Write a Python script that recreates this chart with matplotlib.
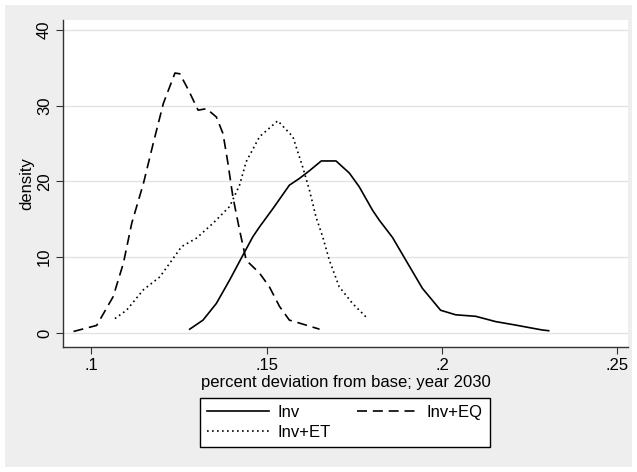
import matplotlib
matplotlib.use("Agg")
import matplotlib.pyplot as plt
from matplotlib.patches import Rectangle

plt.rcParams["font.family"] = ["Liberation Sans", "DejaVu Sans"]

# Kernel density curves (x = pct deviation, y = density)
inv_x = [0.1281, 0.1319, 0.1357, 0.1395, 0.1433, 0.1461, 0.1480, 0.1518, 0.1565,
         0.1594, 0.1622, 0.1656, 0.1698, 0.1736, 0.1764, 0.1802, 0.1821, 0.1859,
         0.1897, 0.1944, 0.1996, 0.2039, 0.2096, 0.2153, 0.2209, 0.2238, 0.2285,
         0.2304]
inv_y = [0.5, 1.7, 3.9, 7.0, 10.3, 12.7, 14.0, 16.4, 19.5,
         20.4, 21.4, 22.7, 22.7, 21.1, 19.3, 16.2, 14.9, 12.6,
         9.6, 5.9, 3.0, 2.4, 2.2, 1.5, 1.05, 0.8, 0.4,
         0.3]

eq_x = [0.0950, 0.1016, 0.1063, 0.1092, 0.1116, 0.1149, 0.1177, 0.1206, 0.1239,
        0.1253, 0.1277, 0.1305, 0.1329, 0.1357, 0.1376, 0.1390, 0.1404, 0.1423,
        0.1442, 0.1480, 0.1508, 0.1537, 0.1565, 0.1594, 0.1651]
eq_y = [0.2, 1.0, 4.8, 9.2, 14.5, 19.7, 25.0, 30.3, 34.3,
        34.2, 32.1, 29.4, 29.6, 28.5, 26.3, 22.4, 18.0, 13.6,
        9.6, 7.9, 6.1, 3.5, 1.7, 1.3, 0.5]

et_x = [0.1068, 0.1101, 0.1149, 0.1196, 0.1224, 0.1258, 0.1300, 0.1348, 0.1395,
        0.1423, 0.1442, 0.1480, 0.1532, 0.1575, 0.1603, 0.1622, 0.1641, 0.1660,
        0.1679, 0.1707, 0.1745, 0.1788]
et_y = [1.9, 3.0, 5.7, 7.4, 9.2, 11.4, 12.5, 14.5, 16.7,
        19.5, 22.6, 25.9, 28.0, 25.9, 21.9, 18.9, 15.3, 12.7,
        9.6, 6.1, 3.9, 1.9]

x_ticks = [0.10, 0.15, 0.20, 0.25]
x_tick_labels = [".1", ".15", ".2", ".25"]
y_ticks = [0, 10, 20, 30, 40]

fig = plt.figure(figsize=(6.37, 4.72), dpi=100, facecolor="white")
# Stata-like light gray graph region with thin white frame
fig.patches.append(Rectangle((5 / 637, 5 / 472), 627 / 637, 462 / 472,
                             transform=fig.transFigure, facecolor="#eeeeee",
                             edgecolor="none", zorder=-10))

ax = fig.add_axes([63 / 637, 1 - 347 / 472, 565 / 637, 327 / 472])
ax.set_facecolor("white")
ax.set_zorder(1)

ax.plot(inv_x, inv_y, color="black", lw=1.2, ls="-", label="Inv")
ax.plot(et_x, et_y, color="black", lw=1.2, ls=(0, (1, 2)), label="Inv+ET")
ax.plot(eq_x, eq_y, color="black", lw=1.2, ls=(0, (6, 3.5)), label="Inv+EQ")

ax.set_xlim(0.092, 0.253)
ax.set_ylim(-1.85, 41.3)
ax.set_xticks(x_ticks)
ax.set_xticklabels(x_tick_labels)
ax.set_yticks(y_ticks)
for lbl in ax.get_yticklabels():
    lbl.set_rotation(90)
    lbl.set_va("center")
ax.grid(axis="y", color="#e3e3e3", lw=1.0)
ax.set_axisbelow(True)

for s in ["top", "right"]:
    ax.spines[s].set_visible(False)
for s in ["left", "bottom"]:
    ax.spines[s].set_color("#333333")
    ax.spines[s].set_linewidth(1.0)
ax.tick_params(direction="out", length=5, color="#333333", labelsize=12,
               pad=3)

ax.set_xlabel("percent deviation from base; year 2030", fontsize=12, labelpad=1)
ax.set_ylabel("density", fontsize=12, labelpad=2)

leg = fig.legend(loc="center", bbox_to_anchor=(345 / 637, 1 - 422.5 / 472),
                 ncol=2, fontsize=12, frameon=True, fancybox=False,
                 handlelength=3.7, columnspacing=1.6, handletextpad=0.5,
                 borderpad=0.4, labelspacing=0.3)
leg.get_frame().set_edgecolor("black")
leg.get_frame().set_linewidth(1.0)
leg.get_frame().set_facecolor("white")
leg.get_frame().set_alpha(1.0)

fig.savefig("out.png", dpi=100, facecolor="white")
